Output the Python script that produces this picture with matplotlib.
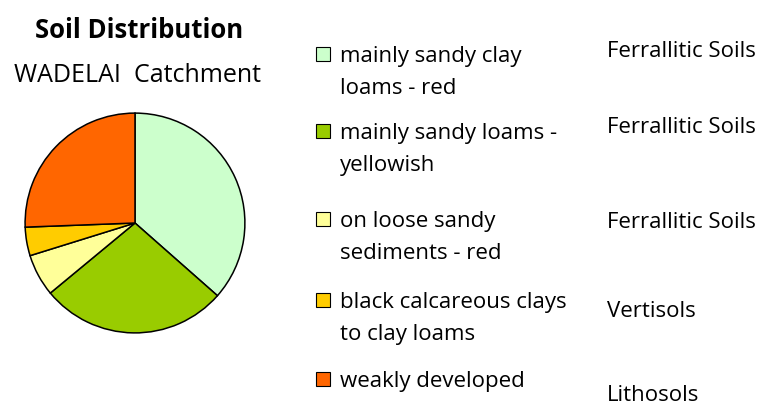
import matplotlib
matplotlib.use("Agg")
import matplotlib.pyplot as plt
from matplotlib.patches import Rectangle

plt.rcParams['font.family'] = ['Open Sans', 'DejaVu Sans']

soils = [
    "mainly sandy clay\nloams - red",
    "mainly sandy loams -\nyellowish",
    "on loose sandy\nsediments - red",
    "black calcareous clays\nto clay loams",
    "weakly developed",
]
groups = ["Ferrallitic Soils", "Ferrallitic Soils", "Ferrallitic Soils",
          "Vertisols", "Lithosols"]
shares = [36.5, 27.5, 6.2, 4.2, 25.6]
colors = ['#CCFFCC', '#99CC00', '#FFFF99', '#FFCC00', '#FF6600']

W, H = 765, 407
fig = plt.figure(figsize=(W / 100, H / 100), dpi=100)

# pie, centre (135, 223) px, radius 111 px
r = 111
ax = fig.add_axes([(135 - r) / W, (H - 223 - r) / H, 2 * r / W, 2 * r / H])
ax.pie(shares, colors=colors, startangle=90, counterclock=False,
       wedgeprops=dict(edgecolor='black', linewidth=1.1))
ax.set_xlim(-1.01, 1.01)
ax.set_ylim(-1.01, 1.01)
ax.set_aspect('equal')
ax.axis('off')

fig.text(139 / W, 1 - 37.5 / H, "Soil Distribution", ha='center',
         va='baseline', fontsize=18.5, fontweight='bold')
fig.text(138 / W, 1 - 82.5 / H, "WADELAI  Catchment", ha='center',
         va='baseline', fontsize=18)

# legend, drawn by hand so the box sits on the first line
row_base = [62, 139, 227, 308, 387]      # first line baselines (px)
group_base = [57, 133, 228, 317, 401]
line_gap = 32
for name, col, yb, grp, gb in zip(soils, colors, row_base, groups, group_base):
    fig.patches.append(Rectangle((316 / W, 1 - (yb - 1) / H), 14 / W, 14 / H,
                                 transform=fig.transFigure, facecolor=col,
                                 edgecolor='black', linewidth=0.8))
    for k, line in enumerate(name.split("\n")):
        fig.text(340 / W, 1 - (yb + k * line_gap) / H, line, ha='left',
                 va='baseline', fontsize=16)
    fig.text(607 / W, 1 - gb / H, grp, ha='left', va='baseline', fontsize=16)

fig.savefig("out.png", dpi=100)
